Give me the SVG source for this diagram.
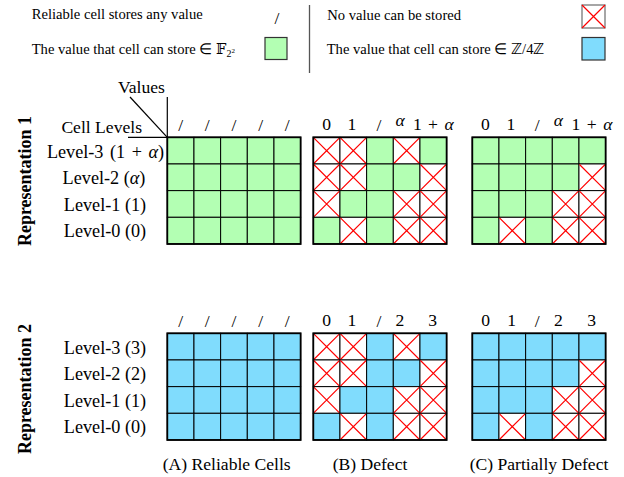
<svg xmlns="http://www.w3.org/2000/svg" width="624" height="477" viewBox="0 0 624 477" font-family="'Liberation Serif', 'Times New Roman', serif">
<style>
text{font-family:'Liberation Serif','Times New Roman',serif;fill:#000}
.lg{font-size:14.6px}
.lb{font-size:17.6px}
.lv{font-size:18.2px;text-anchor:middle}
.c{text-anchor:middle}
.rep{font-size:18px;font-weight:bold;text-anchor:middle}
.gr{fill:#b3ffb3;stroke:#000;stroke-width:1}
.bl{fill:#80dcfd;stroke:#000;stroke-width:1}
.wh{fill:#fff;stroke:#000;stroke-width:1}
.rx{stroke:#ff0000;stroke-width:1.2;fill:none}
.frame{fill:none;stroke:#000;stroke-width:1.8}
.ln{stroke:#000;stroke-width:1.2;fill:none}
</style>
<defs>
<g id="G"><rect class="gr" width="26.67" height="26.67"/></g>
<g id="B"><rect class="bl" width="26.67" height="26.67"/></g>
<g id="X"><rect class="wh" width="26.67" height="26.67"/><path class="rx" stroke="#ff0000" d="M0.5,0.5L26.17,26.17M26.17,0.5L0.5,26.17"/></g>
</defs>

<g id="legend">
<text class="lg" x="31.7" y="19">Reliable cell stores any value</text>
<text class="lb" x="277" y="24" text-anchor="middle">/</text>
<text class="lg" x="31.7" y="54">The value that cell can store ∈ <tspan font-family="'DejaVu Serif'">𝔽</tspan><tspan font-size="10" dy="3">2</tspan><tspan font-size="7" dy="-4">2</tspan></text>
<rect x="265" y="37.5" width="22" height="22" fill="#b3ffb3" stroke="#333" stroke-width="1.2"/>
<line x1="309.5" y1="5" x2="309.5" y2="73" stroke="#555" stroke-width="1.3"/>
<text class="lg" x="327.3" y="20">No value can be stored</text>
<rect x="582" y="5" width="23" height="23" fill="#fff" stroke="#777" stroke-width="1.3"/>
<path class="rx" stroke="#ff0000" d="M582,5L605,28M605,5L582,28"/>
<text class="lg" x="326.7" y="54">The value that cell can store ∈ ℤ/4ℤ</text>
<rect x="582" y="37.5" width="23" height="22.5" fill="#80dcfd" stroke="#333" stroke-width="1.2"/>
</g>

<g id="rep1-labels">
<text class="rep" transform="translate(31,181) rotate(-90)">Representation 1</text>
<text class="lb" x="118" y="93">Values</text>
<text class="lb" x="142" y="132.5" text-anchor="end">Cell Levels</text>
<text class="lv" x="105.5" y="157.5" word-spacing="2">Level-3 (1 + <tspan font-style="italic">α</tspan>)</text>
<text class="lv" x="104" y="184">Level-2 (<tspan font-style="italic">α</tspan>)</text>
<text class="lv" x="105" y="210.5">Level-1 (1)</text>
<text class="lv" x="105" y="237">Level-0 (0)</text>
</g>

<g id="connectors">
<line class="ln" x1="130" y1="97" x2="167.3" y2="137.3"/>
<line class="ln" x1="167.3" y1="97" x2="167.3" y2="137.3"/>
<line class="ln" x1="128" y1="137.3" x2="167.3" y2="137.3"/>
</g>

<g id="rep1-headers">
<text class="lb c" x="180.7" y="131">/</text>
<text class="lb c" x="207.3" y="131">/</text>
<text class="lb c" x="234" y="131">/</text>
<text class="lb c" x="260.7" y="131">/</text>
<text class="lb c" x="287.3" y="131">/</text>
<text class="lb c" x="326.7" y="130">0</text>
<text class="lb c" x="352" y="130">1</text>
<text class="lb c" x="379" y="131">/</text>
<text class="lb c" x="400" y="126" font-style="italic">α</text>
<text class="lb c" x="433.3" y="130" word-spacing="2">1 + <tspan font-style="italic">α</tspan></text>
<text class="lb c" x="485.3" y="130">0</text>
<text class="lb c" x="511" y="130">1</text>
<text class="lb c" x="537.3" y="131">/</text>
<text class="lb c" x="558.3" y="126" font-style="italic">α</text>
<text class="lb c" x="592" y="130" word-spacing="2">1 + <tspan font-style="italic">α</tspan></text>
</g>

<g id="rep1-A" transform="translate(167.3,137.3)">
<use href="#G" x="0" y="0"/><use href="#G" x="26.67" y="0"/><use href="#G" x="53.33" y="0"/><use href="#G" x="80" y="0"/><use href="#G" x="106.67" y="0"/>
<use href="#G" x="0" y="26.67"/><use href="#G" x="26.67" y="26.67"/><use href="#G" x="53.33" y="26.67"/><use href="#G" x="80" y="26.67"/><use href="#G" x="106.67" y="26.67"/>
<use href="#G" x="0" y="53.33"/><use href="#G" x="26.67" y="53.33"/><use href="#G" x="53.33" y="53.33"/><use href="#G" x="80" y="53.33"/><use href="#G" x="106.67" y="53.33"/>
<use href="#G" x="0" y="80"/><use href="#G" x="26.67" y="80"/><use href="#G" x="53.33" y="80"/><use href="#G" x="80" y="80"/><use href="#G" x="106.67" y="80"/>
<rect class="frame" width="133.33" height="106.67"/>
</g>

<g id="rep1-B" transform="translate(313.3,137.3)">
<use href="#X" x="0" y="0"/><use href="#X" x="26.67" y="0"/><use href="#G" x="53.33" y="0"/><use href="#X" x="80" y="0"/><use href="#G" x="106.67" y="0"/>
<use href="#X" x="0" y="26.67"/><use href="#X" x="26.67" y="26.67"/><use href="#G" x="53.33" y="26.67"/><use href="#G" x="80" y="26.67"/><use href="#X" x="106.67" y="26.67"/>
<use href="#X" x="0" y="53.33"/><use href="#G" x="26.67" y="53.33"/><use href="#G" x="53.33" y="53.33"/><use href="#X" x="80" y="53.33"/><use href="#X" x="106.67" y="53.33"/>
<use href="#G" x="0" y="80"/><use href="#X" x="26.67" y="80"/><use href="#G" x="53.33" y="80"/><use href="#X" x="80" y="80"/><use href="#X" x="106.67" y="80"/>
<rect class="frame" width="133.33" height="106.67"/>
</g>

<g id="rep1-C" transform="translate(472.3,137.3)">
<use href="#G" x="0" y="0"/><use href="#G" x="26.67" y="0"/><use href="#G" x="53.33" y="0"/><use href="#G" x="80" y="0"/><use href="#G" x="106.67" y="0"/>
<use href="#G" x="0" y="26.67"/><use href="#G" x="26.67" y="26.67"/><use href="#G" x="53.33" y="26.67"/><use href="#G" x="80" y="26.67"/><use href="#X" x="106.67" y="26.67"/>
<use href="#G" x="0" y="53.33"/><use href="#G" x="26.67" y="53.33"/><use href="#G" x="53.33" y="53.33"/><use href="#X" x="80" y="53.33"/><use href="#X" x="106.67" y="53.33"/>
<use href="#G" x="0" y="80"/><use href="#X" x="26.67" y="80"/><use href="#G" x="53.33" y="80"/><use href="#X" x="80" y="80"/><use href="#X" x="106.67" y="80"/>
<rect class="frame" width="133.33" height="106.67"/>
</g>

<g id="rep2-labels">
<text class="rep" transform="translate(31,389) rotate(-90)">Representation 2</text>
<text class="lv" x="105" y="353.5">Level-3 (3)</text>
<text class="lv" x="105" y="380">Level-2 (2)</text>
<text class="lv" x="105" y="406.5">Level-1 (1)</text>
<text class="lv" x="105" y="433">Level-0 (0)</text>
</g>

<g id="rep2-headers">
<text class="lb c" x="180.7" y="327">/</text>
<text class="lb c" x="207.3" y="327">/</text>
<text class="lb c" x="234" y="327">/</text>
<text class="lb c" x="260.7" y="327">/</text>
<text class="lb c" x="287.3" y="327">/</text>
<text class="lb c" x="326.7" y="326">0</text>
<text class="lb c" x="352" y="326">1</text>
<text class="lb c" x="379" y="327">/</text>
<text class="lb c" x="400" y="326">2</text>
<text class="lb c" x="432.7" y="326">3</text>
<text class="lb c" x="485.7" y="326">0</text>
<text class="lb c" x="511.7" y="326">1</text>
<text class="lb c" x="537.3" y="327">/</text>
<text class="lb c" x="558.3" y="326">2</text>
<text class="lb c" x="591.7" y="326">3</text>
</g>

<g id="rep2-A" transform="translate(167.3,333.3)">
<use href="#B" x="0" y="0"/><use href="#B" x="26.67" y="0"/><use href="#B" x="53.33" y="0"/><use href="#B" x="80" y="0"/><use href="#B" x="106.67" y="0"/>
<use href="#B" x="0" y="26.67"/><use href="#B" x="26.67" y="26.67"/><use href="#B" x="53.33" y="26.67"/><use href="#B" x="80" y="26.67"/><use href="#B" x="106.67" y="26.67"/>
<use href="#B" x="0" y="53.33"/><use href="#B" x="26.67" y="53.33"/><use href="#B" x="53.33" y="53.33"/><use href="#B" x="80" y="53.33"/><use href="#B" x="106.67" y="53.33"/>
<use href="#B" x="0" y="80"/><use href="#B" x="26.67" y="80"/><use href="#B" x="53.33" y="80"/><use href="#B" x="80" y="80"/><use href="#B" x="106.67" y="80"/>
<rect class="frame" width="133.33" height="106.67"/>
</g>

<g id="rep2-B" transform="translate(313.3,333.3)">
<use href="#X" x="0" y="0"/><use href="#X" x="26.67" y="0"/><use href="#B" x="53.33" y="0"/><use href="#X" x="80" y="0"/><use href="#B" x="106.67" y="0"/>
<use href="#X" x="0" y="26.67"/><use href="#X" x="26.67" y="26.67"/><use href="#B" x="53.33" y="26.67"/><use href="#B" x="80" y="26.67"/><use href="#X" x="106.67" y="26.67"/>
<use href="#X" x="0" y="53.33"/><use href="#B" x="26.67" y="53.33"/><use href="#B" x="53.33" y="53.33"/><use href="#X" x="80" y="53.33"/><use href="#X" x="106.67" y="53.33"/>
<use href="#B" x="0" y="80"/><use href="#X" x="26.67" y="80"/><use href="#B" x="53.33" y="80"/><use href="#X" x="80" y="80"/><use href="#X" x="106.67" y="80"/>
<rect class="frame" width="133.33" height="106.67"/>
</g>

<g id="rep2-C" transform="translate(472.3,333.3)">
<use href="#B" x="0" y="0"/><use href="#B" x="26.67" y="0"/><use href="#B" x="53.33" y="0"/><use href="#B" x="80" y="0"/><use href="#B" x="106.67" y="0"/>
<use href="#B" x="0" y="26.67"/><use href="#B" x="26.67" y="26.67"/><use href="#B" x="53.33" y="26.67"/><use href="#B" x="80" y="26.67"/><use href="#X" x="106.67" y="26.67"/>
<use href="#B" x="0" y="53.33"/><use href="#B" x="26.67" y="53.33"/><use href="#B" x="53.33" y="53.33"/><use href="#X" x="80" y="53.33"/><use href="#X" x="106.67" y="53.33"/>
<use href="#B" x="0" y="80"/><use href="#X" x="26.67" y="80"/><use href="#B" x="53.33" y="80"/><use href="#X" x="80" y="80"/><use href="#X" x="106.67" y="80"/>
<rect class="frame" width="133.33" height="106.67"/>
</g>

<g id="captions">
<text class="lb c" x="226.7" y="470">(A) Reliable Cells</text>
<text class="lb c" x="370" y="470">(B) Defect</text>
<text class="lb c" x="539" y="470">(C) Partially Defect</text>
</g>
</svg>
